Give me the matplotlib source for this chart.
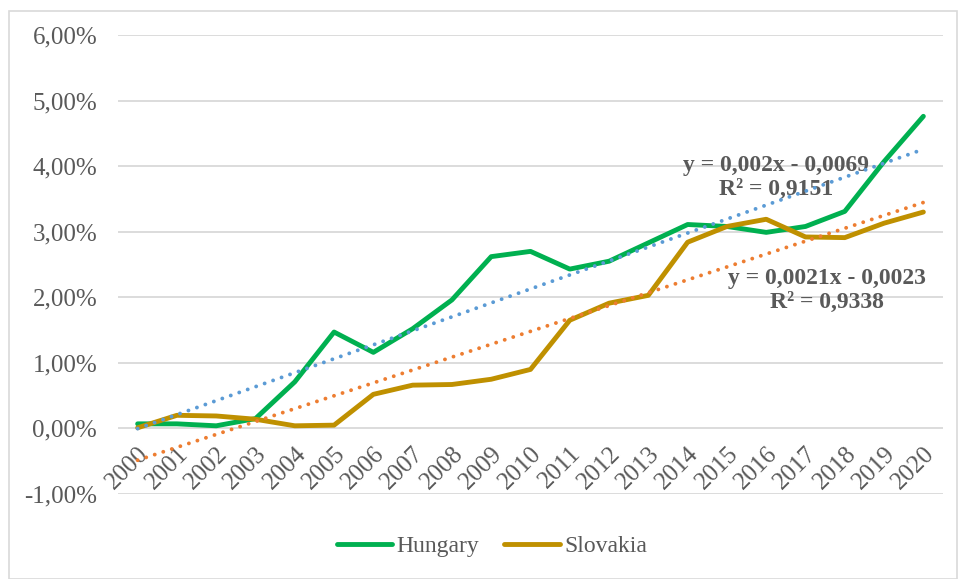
import matplotlib.pyplot as plt
import matplotlib.patches as mpatches
import numpy as np
from matplotlib.ticker import FuncFormatter

years = [str(y) for y in range(2000, 2021)]
hungary = [0.07, 0.07, 0.04, 0.15, 0.71, 1.47, 1.16, 1.52, 1.96, 2.62, 2.70,
           2.43, 2.55, 2.83, 3.11, 3.08, 2.99, 3.08, 3.31, 4.07, 4.76]
slovakia = [0.01, 0.20, 0.19, 0.14, 0.04, 0.05, 0.52, 0.66, 0.67, 0.75, 0.90,
            1.65, 1.91, 2.03, 2.84, 3.08, 3.19, 2.92, 2.91, 3.13, 3.30]
eq_hu = "y = 0,002x - 0,0069\nR² = 0,9151"
eq_sk = "y = 0,0021x - 0,0023\nR² = 0,9338"

plt.rcParams['font.family'] = ['Liberation Serif', 'DejaVu Serif']
grey = '#595959'

fig = plt.figure(figsize=(9.58, 5.79), dpi=100)
ax = fig.add_axes([118/958, 1-494/579, 825/958, 459/579])

x = np.arange(len(years))
hu = np.array(hungary) / 100
sk = np.array(slovakia) / 100

# linear trendlines
p_hu = np.polyfit(x, hu, 1)
p_sk = np.polyfit(x, sk, 1)
dots = (0, (0.01, 2.3))
ax.plot(x, np.polyval(p_hu, x), linestyle=dots, color='#5B9BD5', lw=2.8,
        dash_capstyle='round', zorder=4)
ax.plot(x, np.polyval(p_sk, x), linestyle=dots, color='#ED7D31', lw=2.8,
        dash_capstyle='round', zorder=4)

ax.plot(x, hu, color='#00B050', lw=3.5, label='Hungary', zorder=3,
        solid_capstyle='round', solid_joinstyle='round')
ax.plot(x, sk, color='#BF9000', lw=3.5, label='Slovakia', zorder=3,
        solid_capstyle='round', solid_joinstyle='round')

ax.set_xlim(-0.5, len(years) - 0.5)
ax.set_ylim(-0.01, 0.06)
ax.set_yticks(np.arange(-0.01, 0.0601, 0.01))
ax.yaxis.set_major_formatter(FuncFormatter(lambda v, p: f"{v*100:.2f}%".replace('.', ',')))
ax.grid(axis='y', color='#D9D9D9', lw=1.3)
ax.set_axisbelow(True)
for s in ax.spines.values():
    s.set_visible(False)
ax.spines['bottom'].set_position(('data', 0))
ax.tick_params(axis='both', length=0, labelsize=18, labelcolor=grey)
ax.tick_params(axis='y', pad=15)
ax.set_xticks(x)
ax.set_xticklabels(years, rotation=45, ha='right', va='top', rotation_mode='anchor')
ax.tick_params(axis='x', pad=10)

ax.text(16.25, 0.0383, eq_hu, ha='center', va='center', fontsize=17, fontweight='bold',
        color=grey, linespacing=1.2)
ax.text(17.55, 0.0210, eq_sk, ha='center', va='center', fontsize=17, fontweight='bold',
        color=grey, linespacing=1.2)

leg = fig.legend(loc='center', bbox_to_anchor=(492/958, 1-546/579), ncol=2, frameon=False,
                 fontsize=17, labelcolor=grey, handlelength=2.35, columnspacing=1.05,
                 handletextpad=0.2)
for h in leg.get_lines():
    h.set_solid_capstyle('round')

fig.patches.append(mpatches.Rectangle((9/958, 0), 1 - 9/958 - 1/958, 1 - 11/579,
                                      transform=fig.transFigure, fill=False,
                                      edgecolor='#D9D9D9', lw=1.2))

fig.savefig('out.png', dpi=100)
